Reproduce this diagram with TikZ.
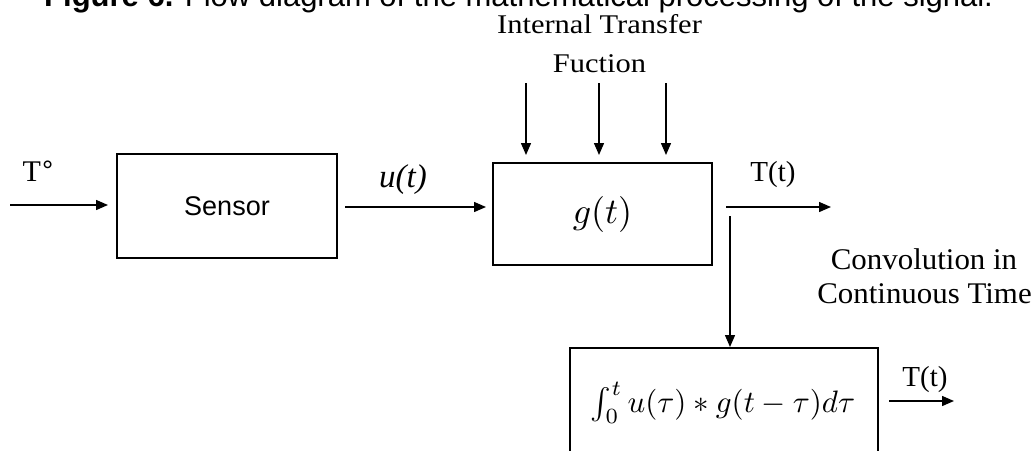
\documentclass[tikz,border=0pt]{standalone}
\usepackage{graphicx}
\usepackage{fontspec}
\setmainfont{Liberation Serif}
\newfontfamily\arial{Liberation Sans}
\usetikzlibrary{arrows.meta}
\begin{document}
\begin{tikzpicture}[x=1pt,y=-1pt,
  blk/.style={draw,line width=1.6pt,inner sep=0pt},
  arr/.style={line width=1.4pt,-{Triangle[length=12pt,width=10pt]}},
  lbl/.style={inner sep=0pt,anchor=base}]
\useasboundingbox (0,0) rectangle (1035,450);
\clip (0,0) rectangle (1035,450);
\fill[white] (0,0) rectangle (1035,450);
% title (cut at top)
\node[lbl,anchor=base west] (title) at (44,6) {\arial\fontsize{31}{34}\selectfont\textbf{Figure 6.} Flow diagram of the mathematical processing of the signal.};
% boxes
\node[blk,minimum width=220pt,minimum height=104pt] (sensor) at (227,206) {\arial\fontsize{27}{30}\selectfont Sensor};
\node[blk,minimum width=219pt,minimum height=102pt] (g) at (602.5,214) {\scalebox{3.6}{$g(t)$}};
\node[blk,minimum width=308pt,minimum height=110pt,anchor=north west] (conv) at (569,347) {};
\node (convtext) at (723,403) {\scalebox{3.1}{$\int_0^t u(\tau)\ast g(t-\tau)d\tau$}};
% coordinates
\coordinate (in0) at (10,205);
\coordinate (in1) at (108,205);
\coordinate (u0) at (345,207);
\coordinate (u1) at (486,207);
\coordinate (t0) at (726,207);
\coordinate (t1) at (831,207);
\coordinate (d0) at (730,216);
\coordinate (b0) at (889,401);
\coordinate (b1) at (954,401);
\foreach \xx in {526,599,666}{
  \draw[arr] (\xx,83) -- (\xx,155);
}
\draw[arr] (in0) -- (in1);
\draw[arr] (u0) -- (u1);
\draw[arr] (t0) -- (t1);
\draw[arr] (d0) -- (conv.north -| d0);
\draw[arr] (b0) -- (b1);
% labels
\node[lbl] (tdeg) at (38,181) {\fontsize{30}{34}\selectfont T\kern1pt\raisebox{1pt}{\arial\fontsize{28}{30}\selectfont°}};
\node[lbl] (ut) at (403,187) {\fontsize{33}{38}\selectfont\itshape u(t)};
\node[lbl] (tt1) at (773,181) {\fontsize{29}{34}\selectfont T(t)};
\node[lbl] (tt2) at (925,386) {\fontsize{29}{34}\selectfont T(t)};
\node[lbl,xscale=1.13] (itf) at (599.5,33) {\fontsize{27}{30}\selectfont Internal Transfer};
\node[lbl,xscale=1.13] (fuc) at (599.5,72) {\fontsize{27}{30}\selectfont Fuction};
\node[lbl,xscale=1.03] (conv1) at (924,269) {\fontsize{30}{34}\selectfont Convolution in};
\node[lbl,xscale=1.03] (conv2) at (924.5,303) {\fontsize{30}{34}\selectfont Continuous Time};
\end{tikzpicture}
\end{document}
